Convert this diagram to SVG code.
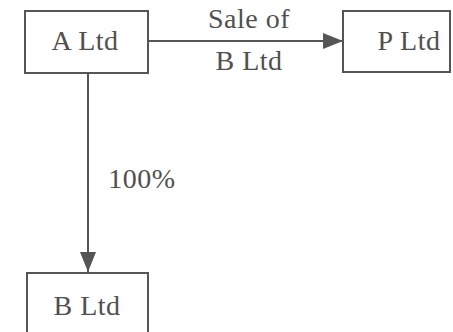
<svg xmlns="http://www.w3.org/2000/svg" width="453" height="332" viewBox="0 0 453 332">
<style>
.box{fill:#fff;stroke:#555;stroke-width:2}
.t{font-family:"Liberation Serif",serif;font-size:28px;letter-spacing:0.5px;fill:#505050;text-anchor:middle}
.c{stroke:#555;stroke-width:2;fill:none}
</style>
<defs>
<marker id="ah2" markerWidth="20" markerHeight="16" refX="20" refY="8" orient="auto" markerUnits="userSpaceOnUse" viewBox="0 0 20 16">
<path d="M0,0 L20,8 L0,16 z" fill="#555"/>
</marker>
</defs>
<rect width="453" height="332" fill="#fff"/>
<g id="connectors">
<line class="c" x1="148" y1="41" x2="343" y2="41" marker-end="url(#ah2)"/>
<line class="c" x1="88" y1="73" x2="88" y2="272" marker-end="url(#ah2)"/>
<text class="t" x="249" y="28">Sale of</text>
<text class="t" x="249" y="70">B Ltd</text>
<text class="t" x="142" y="188">100%</text>
</g>
<g id="a-ltd">
<rect class="box" x="25" y="11" width="123" height="62"/>
<text class="t" x="85" y="50">A Ltd</text>
</g>
<g id="p-ltd">
<rect class="box" x="343" y="11" width="107" height="61"/>
<text class="t" x="409" y="50">P Ltd</text>
</g>
<g id="b-ltd">
<rect class="box" x="27" y="273" width="121" height="70"/>
<text class="t" x="87" y="315">B Ltd</text>
</g>
</svg>
